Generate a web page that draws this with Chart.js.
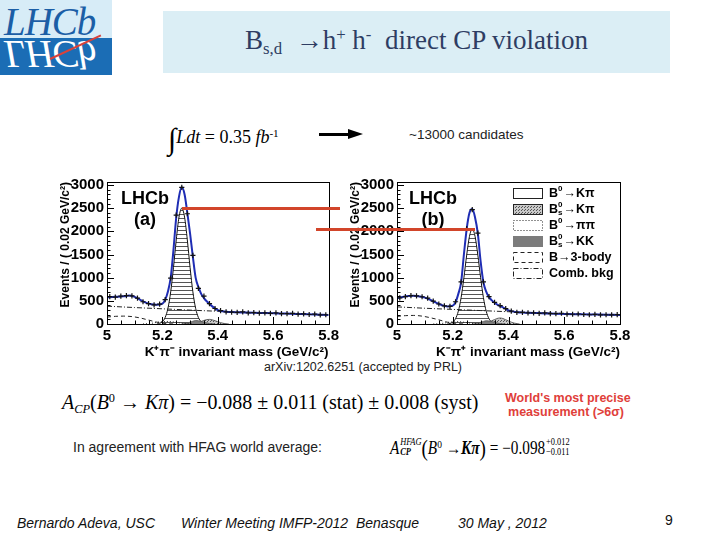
<!doctype html>
<html lang="en">
<head>
<meta charset="utf-8">
<title>Bs,d to h+ h- direct CP violation</title>
<style>
  * { margin: 0; padding: 0; }
  body { width: 720px; height: 540px; position: relative; overflow: hidden; background: #fff;
         font-family: 'Liberation Sans', Arial, sans-serif; color: #000; }
  .abs { position: absolute; white-space: nowrap; line-height: 1; }
  .serif { font-family: 'Liberation Serif', 'DejaVu Serif', serif; }
  .sup { font-size: 0.62em; vertical-align: 0.55em; }
  .sub { font-size: 0.62em; vertical-align: -0.3em; }
  .stack { display: inline-block; vertical-align: -0.15em; font-size: 0.55em; line-height: 1.05; margin-left: 1px; }
  .stack span { display: block; }
  #logo { position: absolute; left: 0; top: 0; width: 112px; height: 75px; overflow: hidden; background: #1b6db5; }
  #logo .top { position: absolute; left: 0; top: 0; width: 112px; height: 38px; background: #d7ecf7; }
  #logo .word { position: absolute; left: 4px; top: 2px; font: italic 39px 'Liberation Serif', serif; line-height: 1; color: #1b5ea6; letter-spacing: -1px; }
  #logo .mirror { position: absolute; left: 0; top: 0; width: 112px; height: 76px; transform: scaleY(-1); }
  #logo .mirror .word { color: #fff; }
  #logo .slash { position: absolute; left: 50px; top: 58px; width: 56px; height: 1.5px; background: #d9423a; transform: rotate(-25deg); transform-origin: left center; }
  #titleBox { position: absolute; left: 163px; top: 11px; width: 507px; height: 62px; background: #dbeef5;
              display: flex; align-items: center; justify-content: center; }
  #titleBox div { font: 27px 'Liberation Serif', serif; color: #2e3d63; white-space: nowrap; }
  canvas { position: absolute; }
  #chartA { left: 40px; top: 170px; }
  #chartB { left: 330px; top: 170px; }
  .redBar { position: absolute; height: 3px; background: #d2452a; }
  .foot { font-style: italic; font-size: 14px; color: #111; }
</style>
</head>
<body>
  <div id="logo">
    <div class="top"><div class="word">LHCb</div></div>
    <div class="mirror"><div class="word">LHCb</div></div>
    <div class="slash"></div>
  </div>

  <div id="titleBox"><div>B<span class="sub">s,d</span>&nbsp;&nbsp;→h<span class="sup">+</span> h<span class="sup">-</span>&nbsp; direct CP violation</div></div>

  <div class="abs serif" style="left:168px; top:124px; font-size:18px;"><span style="font-size:30px; vertical-align:-6px;">∫</span><i>Ldt</i> = 0.35 <i>fb</i><span class="sup">-1</span></div>
  <div class="abs" style="left:319px; top:133px; width:32px; height:3px; background:#000;"></div>
  <div class="abs" style="left:348px; top:129px; width:0; height:0; border-top:5.5px solid transparent; border-bottom:5.5px solid transparent; border-left:15px solid #000;"></div>
  <div class="abs" style="left:409px; top:128px; font-size:13.5px; color:#222;">~13000 candidates</div>

  <canvas id="chartA" width="302" height="190"></canvas>
  <canvas id="chartB" width="305" height="190"></canvas>

  <div class="abs" id="arxiv" style="left:264px; top:361px; font-size:12.5px; color:#222;">arXiv:1202.6251 (accepted by PRL)</div>

  <div class="abs serif" id="acp" style="left:62px; top:392px; font-size:20px; transform-origin:left center;"><i>A</i><span class="sub"><i>CP</i></span>(<i>B</i><span class="sup">0</span> → <i>Kπ</i>) = −0.088 ± 0.011 (stat) ± 0.008 (syst)</div>
  <div class="abs" style="left:505px; top:391px; width:122px; text-align:center; font-weight:bold; font-size:12.5px; color:#e0403a; line-height:14px;">World's most precise<br>measurement (&gt;6σ)</div>

  <div class="abs" style="left:73px; top:440px; font-size:14px; color:#222;">In agreement with HFAG world average:</div>
  <div class="abs serif" id="hfag" style="left:390px; top:437px; font-size:18px; transform-origin:left center;"><i>A</i><span class="stack"><span><i>HFAG</i></span><span><i><b>CP</b></i></span></span><span style="font-size:1.25em; vertical-align:-2px;">(</span><i>B</i><span class="sup">0</span> →<i><b>Kπ</b></i><span style="font-size:1.25em; vertical-align:-2px;">)</span> = −0.098<span class="stack"><span>+0.012</span><span>−0.011</span></span></div>

  <div class="abs foot" style="left:17px; top:516px;">Bernardo Adeva, USC</div>
  <div class="abs foot" style="left:181px; top:516px;">Winter Meeting IMFP-2012&nbsp; Benasque</div>
  <div class="abs foot" style="left:458px; top:516px;">30 May , 2012</div>
  <div class="abs" style="left:665px; top:513px; font-size:14px; color:#111;">9</div>

  <script src="https://cdn.jsdelivr.net/npm/chart.js/dist/chart.umd.min.js"></script>
  <script>
// axes
const xTicks = [5, 5.2, 5.4, 5.6, 5.8];
const xTickLabels = ['5', '5.2', '5.4', '5.6', '5.8'];
const yTicks = [0, 500, 1000, 1500, 2000, 2500, 3000];

// data points, 0.02 GeV bins
const massBins = [5.01, 5.03, 5.05, 5.07, 5.09, 5.11, 5.13, 5.15, 5.17, 5.19,
                  5.21, 5.23, 5.25, 5.27, 5.29, 5.31, 5.33, 5.35, 5.37, 5.39,
                  5.41, 5.43, 5.45, 5.47, 5.49, 5.51, 5.53, 5.55, 5.57, 5.59,
                  5.61, 5.63, 5.65, 5.67, 5.69, 5.71, 5.73, 5.75, 5.77, 5.79];
const eventsA = [590, 578, 600, 612, 608, 560, 480, 440, 412, 428,
                 525, 990, 2350, 2950, 2380, 1480, 770, 600, 440, 335,
                 290, 262, 258, 250, 262, 240, 245, 236, 240, 228,
                 238, 225, 222, 230, 212, 218, 205, 212, 198, 200];
const eventsB = [565, 590, 612, 605, 588, 560, 492, 432, 392, 380,
                 480, 910, 2060, 2470, 1960, 910, 590, 465, 395, 330,
                 280, 252, 250, 240, 238, 230, 242, 225, 222, 232,
                 212, 210, 216, 205, 200, 208, 198, 200, 195, 202];

// total fit (blue)
const fitMass = [5.00, 5.02, 5.04, 5.06, 5.08, 5.10, 5.12, 5.14, 5.16, 5.18,
                 5.20, 5.21, 5.22, 5.23, 5.24, 5.25, 5.26, 5.27, 5.28, 5.29,
                 5.30, 5.31, 5.32, 5.33, 5.34, 5.35, 5.36, 5.38, 5.40, 5.43,
                 5.46, 5.50, 5.55, 5.60, 5.65, 5.70, 5.75, 5.80];
const fitA = [575, 585, 590, 600, 615, 585, 520, 460, 425, 415,
              440, 520, 700, 1000, 1600, 2300, 2750, 2950, 2800, 2400,
              1950, 1450, 1000, 800, 650, 560, 490, 380, 300, 265,
              255, 248, 240, 232, 225, 215, 205, 195];
const fitB = [560, 585, 605, 610, 595, 570, 520, 460, 410, 378,
              395, 470, 650, 900, 1500, 2050, 2400, 2480, 2300, 1950,
              1350, 900, 700, 580, 510, 460, 420, 360, 295, 255,
              245, 235, 225, 215, 210, 205, 200, 195];

// fit components
const kpiMass = [5.18, 5.19, 5.20, 5.21, 5.22, 5.23, 5.24, 5.25, 5.26, 5.27,
                 5.28, 5.29, 5.30, 5.31, 5.32, 5.33, 5.34, 5.35, 5.36];
const kpiA = [0, 15, 50, 140, 338, 695, 1217, 1815, 2308, 2500,
              2308, 1815, 1217, 695, 338, 140, 50, 15, 0];
const kpiB = [0, 12, 41, 115, 277, 570, 998, 1488, 1892, 2050,
              1892, 1488, 998, 570, 277, 115, 41, 12, 0];

const bsKpiMass = [5.30, 5.32, 5.34, 5.36, 5.37, 5.38, 5.40, 5.42, 5.44];
const bsKpiA = [0, 15, 55, 95, 100, 90, 50, 15, 0];
const bsKpiB = [0, 20, 70, 120, 130, 118, 65, 20, 0];

const bsKKMass = [5.27, 5.29, 5.31, 5.32, 5.33, 5.35, 5.37, 5.39];
const bsKKA = [0, 20, 60, 75, 70, 40, 12, 0];
const bsKKB = [0, 18, 55, 70, 65, 38, 10, 0];

const pipiMass = [5.13, 5.16, 5.19, 5.22, 5.25, 5.28, 5.31];
const pipiA = [0, 15, 45, 55, 35, 10, 0];
const pipiB = [0, 12, 40, 50, 30, 8, 0];

const threeBodyMass = [5.00, 5.03, 5.06, 5.09, 5.12, 5.15, 5.18, 5.21, 5.24];
const threeBodyA = [150, 165, 170, 160, 130, 85, 40, 12, 0];
const threeBodyB = [165, 180, 185, 170, 135, 90, 40, 12, 0];

const combMass = [5.0, 5.1, 5.2, 5.3, 5.4, 5.5, 5.6, 5.7, 5.8];
const combA = [385, 355, 328, 300, 275, 252, 232, 212, 193];
const combB = [370, 340, 315, 290, 265, 245, 225, 205, 190];

const legendNames = ['B^0→Kπ', 'B^0_s→Kπ', 'B^0→ππ', 'B^0_s→KK', 'B→3-body', 'Comb. bkg'];

// red guide lines (mass, level)
const markA = [5.27, 2500];
const markB = [5.28, 2050];

const FONT = '"Liberation Sans", Arial, sans-serif';

function pts(xs, ys) { return xs.map((x, i) => ({x: x, y: ys[i]})); }

function makePattern(w, h, draw) {
  const c = document.createElement('canvas');
  c.width = w; c.height = h;
  draw(c.getContext('2d'));
  return c.getContext('2d').createPattern(c, 'repeat');
}
const hatch = makePattern(8, 4, g => { g.fillStyle = '#555'; g.fillRect(0, 0, 8, 1); });
const dots = makePattern(3, 3, g => {
  g.fillStyle = '#c9c9c9'; g.fillRect(0, 0, 3, 3);
  g.fillStyle = '#555'; g.fillRect(0, 0, 1, 1); g.fillRect(2, 1, 1, 1);
});

// ROOT style frame with inward ticks
const rootFrame = {
  id: 'rootFrame',
  afterDatasetsDraw(chart) {
    const {ctx, chartArea: a, scales: {x, y}} = chart;
    ctx.save();
    ctx.strokeStyle = '#000';
    ctx.lineWidth = 1;
    ctx.strokeRect(Math.round(a.left) + 0.5, Math.round(a.top) + 0.5, Math.round(a.width), Math.round(a.height));
    ctx.beginPath();
    for (let k = 0; k <= 16; k++) {
      const px = Math.round(x.getPixelForValue(5 + k * 0.05)) + 0.5;
      ctx.moveTo(px, a.bottom);
      ctx.lineTo(px, a.bottom - (k % 4 === 0 ? 7 : 3.5));
    }
    for (let k = 0; k <= 30; k++) {
      const py = Math.round(y.getPixelForValue(k * 100)) + 0.5;
      ctx.moveTo(a.left, py);
      ctx.lineTo(a.left + (k % 5 === 0 ? 7 : 3.5), py);
    }
    ctx.stroke();
    ctx.restore();
  }
};

const plotText = {
  id: 'plotText',
  afterDraw(chart, args, opts) {
    const {ctx, chartArea: a} = chart;
    ctx.save();
    ctx.fillStyle = '#000';
    ctx.textAlign = 'center';
    ctx.font = 'bold 18px ' + FONT;
    ctx.fillText('LHCb', a.left + opts.dx, a.top + 22);
    ctx.fillText(opts.tag, a.left + opts.dx, a.top + 43);
    ctx.restore();
  }
};

function drawRich(ctx, s, x, y) {
  let i = 0;
  while (i < s.length) {
    const ch = s[i];
    if (ch === '^' || ch === '_') {
      let w = 0;
      ctx.font = 'bold 8px ' + FONT;
      if (ch === '^') {
        ctx.fillText(s[i + 1], x, y - 5);
        w = ctx.measureText(s[i + 1]).width;
        i += 2;
        if (s[i] === '_') {
          ctx.fillText(s[i + 1], x, y + 3);
          w = Math.max(w, ctx.measureText(s[i + 1]).width);
          i += 2;
        }
      } else {
        ctx.fillText(s[i + 1], x, y + 3);
        w = ctx.measureText(s[i + 1]).width;
        i += 2;
      }
      x += w + 1;
    } else {
      ctx.font = 'bold 12.5px ' + FONT;
      ctx.fillText(ch, x, y);
      x += ctx.measureText(ch).width;
      i += 1;
    }
  }
}

const boxLegend = {
  id: 'boxLegend',
  afterDraw(chart, args, opts) {
    if (!opts.show) return;
    const {ctx, chartArea: a} = chart;
    ctx.save();
    ctx.textBaseline = 'middle';
    ctx.textAlign = 'left';
    legendNames.forEach((name, i) => {
      const bx = a.right - 107, by = a.top + 6 + i * 16, bw = 29, bh = 10;
      ctx.lineWidth = 1;
      ctx.strokeStyle = '#222';
      ctx.setLineDash([]);
      if (i === 0) { ctx.fillStyle = '#fff'; ctx.fillRect(bx, by, bw, bh); ctx.strokeRect(bx + 0.5, by + 0.5, bw, bh); }
      if (i === 1) { ctx.fillStyle = dots; ctx.fillRect(bx, by, bw, bh); ctx.strokeRect(bx + 0.5, by + 0.5, bw, bh); }
      if (i === 2) { ctx.setLineDash([1, 2]); ctx.strokeRect(bx + 0.5, by + 0.5, bw, bh); }
      if (i === 3) { ctx.fillStyle = '#7c7c7c'; ctx.fillRect(bx, by, bw + 1, bh + 1); }
      if (i === 4) { ctx.setLineDash([4, 3]); ctx.strokeRect(bx + 0.5, by + 0.5, bw, bh); }
      if (i === 5) { ctx.setLineDash([5, 2, 1, 2]); ctx.strokeRect(bx + 0.5, by + 0.5, bw, bh); }
      ctx.setLineDash([]);
      ctx.fillStyle = '#000';
      drawRich(ctx, name, bx + bw + 7, by + bh / 2 + 1);
    });
    ctx.restore();
  }
};

function lineSet(label, data, extra) {
  return Object.assign({
    label: label, data: data, showLine: true, pointRadius: 0, borderWidth: 1,
    borderColor: '#222', fill: false, cubicInterpolationMode: 'monotone'
  }, extra);
}

function makeChart(id, d) {
  return new Chart(document.getElementById(id), {
    type: 'line',
    data: {
      datasets: [
        { label: 'Data', data: pts(massBins, d.events), showLine: false, pointStyle: 'cross',
          pointRadius: 2.6, pointBorderWidth: 1.2, borderColor: '#111', backgroundColor: '#111' },
        lineSet('Fit', pts(fitMass, d.fit), { borderColor: '#1f2db4', borderWidth: 2 }),
        lineSet('Comb. bkg', pts(combMass, d.comb), { borderDash: [5, 2, 1, 2] }),
        lineSet('B→3-body', pts(threeBodyMass, d.three), { borderDash: [4, 3] }),
        lineSet('B0→ππ', pts(pipiMass, d.pipi), { borderDash: [1, 2] }),
        lineSet('Bs→KK', pts(bsKKMass, d.kk), { borderColor: '#555', borderWidth: 0.8, backgroundColor: '#7c7c7c', fill: 'origin' }),
        lineSet('Bs→Kπ', pts(bsKpiMass, d.bskpi), { borderColor: '#444', borderWidth: 0.8, backgroundColor: dots, fill: 'origin' }),
        lineSet('B0→Kπ', pts(kpiMass, d.kpi), { borderColor: '#111', backgroundColor: hatch, fill: 'origin' })
      ]
    },
    options: {
      responsive: false,
      animation: false,
      devicePixelRatio: 1,
      layout: { padding: { left: 18, top: 12, right: d.padRight, bottom: 0 } },
      plugins: {
        legend: { display: false },
        tooltip: { enabled: false },
        plotText: { dx: d.textDx, tag: d.tag },
        boxLegend: { show: d.legend }
      },
      scales: {
        x: {
          type: 'linear', min: 5, max: 5.8,
          afterBuildTicks: s => { s.ticks = xTicks.map(v => ({value: v})); },
          afterFit: s => { s.height = 36; },
          grid: { display: false, drawTicks: false },
          border: { display: false },
          ticks: { padding: 3, color: '#000', autoSkip: false, maxRotation: 0,
                   font: { family: FONT, size: 15, weight: 'bold' },
                   callback: (v, i) => xTickLabels[i] },
          title: { display: true, text: d.xTitle, align: 'end', color: '#000', padding: 0,
                   font: { family: FONT, size: 13.5, weight: 'bold' } }
        },
        y: {
          min: 0, max: 3065,
          afterBuildTicks: s => { s.ticks = yTicks.map(v => ({value: v})); },
          afterFit: s => { s.width = 49; },
          grid: { display: false, drawTicks: false },
          border: { display: false },
          ticks: { padding: 3, color: '#000', autoSkip: false,
                   font: { family: FONT, size: 15, weight: 'bold' },
                   callback: v => String(v) },
          title: { display: true, text: 'Events / ( 0.02 GeV/c²)', align: 'end', color: '#000', padding: 0,
                   font: { family: FONT, size: 12, weight: 'bold' } }
        }
      }
    },
    plugins: [rootFrame, plotText, boxLegend]
  });
}

const chartA = makeChart('chartA', {
  events: eventsA, fit: fitA, comb: combA, three: threeBodyA, pipi: pipiA,
  kk: bsKKA, bskpi: bsKpiA, kpi: kpiA, padRight: 13, textDx: 38, tag: '(a)',
  xTitle: 'K⁺π⁻ invariant mass (GeV/c²)', legend: false
});
const chartB = makeChart('chartB', {
  events: eventsB, fit: fitB, comb: combB, three: threeBodyB, pipi: pipiB,
  kk: bsKKB, bskpi: bsKpiB, kpi: kpiB, padRight: 15, textDx: 36, tag: '(b)',
  xTitle: 'K⁻π⁺ invariant mass (GeV/c²)', legend: true
});

// red guide bars linking the two peaks
function redBar(x1, x2, y) {
  const el = document.createElement('div');
  el.className = 'redBar';
  el.style.left = x1 + 'px';
  el.style.width = (x2 - x1) + 'px';
  el.style.top = (y - 1.5) + 'px';
  document.body.appendChild(el);
}
const cA = document.getElementById('chartA'), cB = document.getElementById('chartB');
redBar(cA.offsetLeft + chartA.scales.x.getPixelForValue(markA[0]), cB.offsetLeft + 10,
       cA.offsetTop + chartA.scales.y.getPixelForValue(markA[1]));
redBar(cA.offsetLeft + chartA.scales.x.getPixelForValue(5.756), cB.offsetLeft + chartB.scales.x.getPixelForValue(markB[0]),
       cB.offsetTop + chartB.scales.y.getPixelForValue(markB[1]));

// squeeze formulas to their width on the slide
function fitWidth(id, w) {
  const el = document.getElementById(id);
  el.style.transform = 'scaleX(' + (w / el.offsetWidth) + ')';
}
fitWidth('acp', 416);
fitWidth('hfag', 180);
  </script>
</body>
</html>
